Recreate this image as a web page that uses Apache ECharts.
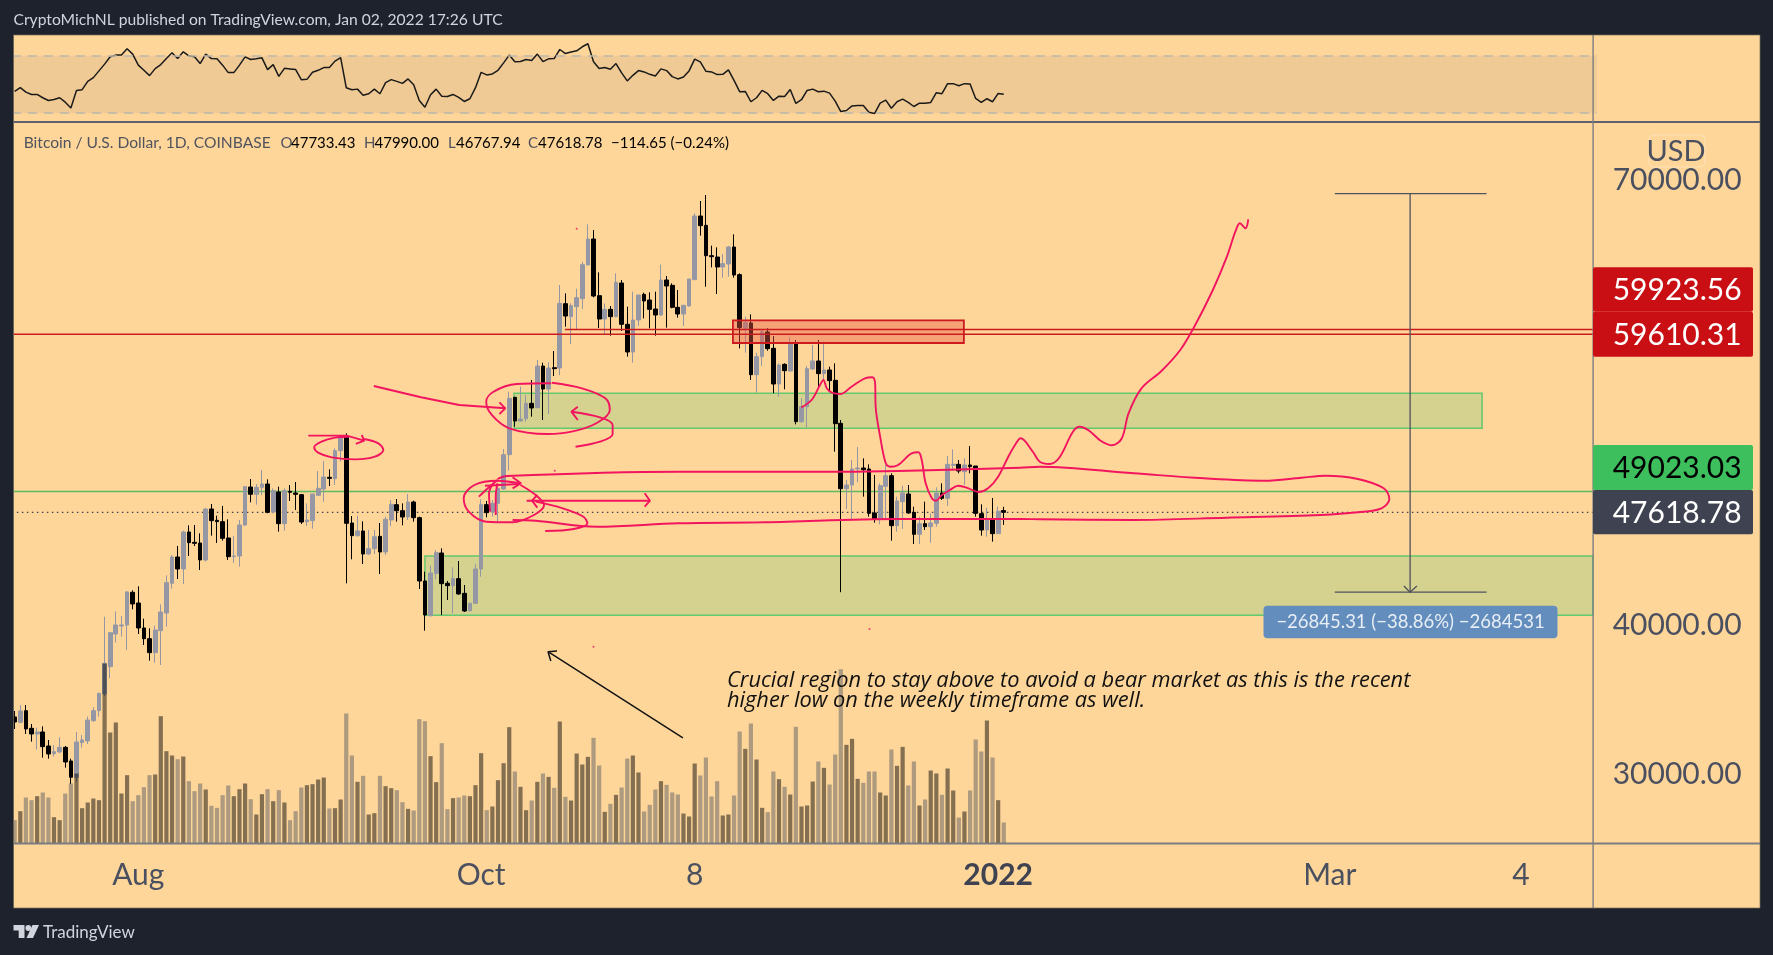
<!DOCTYPE html>
<html>
<head>
<meta charset="utf-8">
<style>html,body{margin:0;padding:0;background:#1e222d;}#c{width:1773px;height:955px;}</style>
<script src="https://cdn.jsdelivr.net/npm/echarts@6/dist/echarts.min.js"></script>
</head>
<body>
<div id="c"></div>
<script>
const opens = [33833,33473,34259,33069,32688,32822,31879,31363,31476,31790,
30869,29769,32104,32216,33585,34259,35382,37222,39423,39961,
40029,42229,41510,39827,39108,38165,39647,40837,42835,44608,
43800,46292,45596,45551,44407,47841,47078,46988,45888,44631,
44676,46764,49323,48829,49301,49525,47639,48986,46853,49031,
48918,48806,46988,47055,48761,49188,49974,49884,51770,52712,
46898,46045,46359,44810,45169,46000,44945,47100,48133,47729,
47302,48312,47257,42992,40657,43508,44878,42835,42677,43149,
42161,40994,41488,43800,48133,47639,48222,49188,51500,55361,
53768,53924,54957,54665,57471,55922,57359,57336,61670,60794,
61468,62006,64274,66025,62208,60637,61288,60794,63061,60278,
58414,60570,62298,61916,61310,60906,63263,62904,61423,60974,
61512,63286,67574,66945,64902,64812,64139,64341,65486,63623,
60008,60368,56888,58100,59762,58662,56260,57584,57135,58999,
53723,54733,57270,57809,56956,57203,56507,53610,49210,49457,
50535,50602,50535,47571,47167,49368,50086,46718,48335,48851,
47616,46135,46853,46651,46876,48919,48559,50782,50849,50355,
50804,50737,47527,46426,47145,46180,47733.43];
const highs = [34237,34641,34641,33361,33114,33204,32283,31947,32463,31879,
31026,32822,32620,33855,34506,35471,40590,39512,40949,40635,
42319,42364,42633,40455,39804,39984,41421,43374,44743,45349,
46382,46741,46764,46202,47909,48178,47392,48043,47145,46023,
47100,49390,49862,49525,50468,49839,49233,49345,49233,49457,
49659,48851,48222,48851,50400,51074,50512,51927,52825,52937,
47369,47392,47010,46426,46426,46898,47325,48447,48514,48222,
48851,48402,47325,43620,44024,45080,45192,42992,43912,44339,
42722,41533,44137,48492,48380,48447,49345,51882,55743,55400,
56080,55518,56529,57875,57696,57718,58482,62927,62366,61692,
62680,64498,67013,66631,63780,61692,61512,63712,63264,61468,
62478,62253,62410,62433,62478,64296,63533,63039,62590,61602,
63331,67754,68584,68988,65576,65464,65015,65553,66339,63712,
60794,60951,58369,59897,60009,59492,57652,57652,59403,59223,
55295,57472,58886,59223,59111,57427,57652,53835,49794,51141,
52017,51253,50849,50131,49570,50804,50243,48672,49412,49457,
47998,47325,48335,47549,49300,49570,51410,51859,51141,51253,
52084,50737,48155,47931,48582,48000,47990];
const lows = [33024,33406,32688,32171,31655,31094,31026,31161,31385,30420,
29320,29477,31767,32014,33496,33855,35247,36437,38839,39243,
38345,41084,39423,38682,37627,37492,37335,39916,42476,43127,
42790,44676,45349,43733,44294,46045,45551,45709,44407,44227,
43957,46696,48290,48133,48784,47549,47549,46314,46382,48380,
47773,46831,46696,46516,48716,48335,49390,49457,51029,42835,
44451,45978,44137,44765,44810,43463,44743,46696,46988,46741,
47100,46988,42453,39647,40590,43104,40702,41712,40814,42071,
40904,40926,41443,43284,47280,47325,46920,49121,50423,53386,
53722,53722,54059,54620,53835,54239,56798,56865,60120,58953,
59896,61310,64274,62096,60031,59627,59514,60749,59829,58100,
57696,60165,60682,60008,59514,60839,60053,61355,60727,60165,
61468,63264,66249,62815,64117,62321,63421,63488,63421,58661,
58369,56528,55675,57472,58505,55631,55407,55900,57090,53543,
53655,53341,57203,55968,56529,55743,51702,42237,47841,47167,
49637,48672,47325,46920,46808,47100,45708,46314,46494,47527,
45484,45484,46426,45574,46651,48447,48043,50423,50243,49457,
50243,47325,46045,45978,45641,46180,46767.94];
const closes = [33496,34237,33024,32688,32822,31834,31341,31498,31790,30802,
29769,32149,32283,33630,34259,35426,37447,39512,40029,40029,
42251,41443,39827,39108,38165,39692,40904,42880,44608,43800,
46292,45574,45529,44407,47841,47056,46988,45866,44631,44676,
46764,49346,48829,49301,49525,47616,49076,46853,49076,48963,
48829,46965,47100,48851,49233,49996,49906,51770,52712,46875,
46045,46359,44810,45169,45970,44945,47145,48155,47729,47302,
48312,47257,42992,40702,43531,44900,42812,42677,43149,42116,
40971,41488,43800,48155,47594,48222,49233,51500,55294,53768,
53902,54957,54643,57471,55922,57336,57292,61692,60839,61535,
62074,64296,66025,62186,60637,61288,60794,63106,60278,58414,
60570,62253,61849,61288,60906,63263,62859,61423,60974,61557,
63331,67574,66923,64902,64835,64139,64364,65486,63600,60053,
60390,56888,58100,59784,58640,56260,57539,57158,58999,53723,
54733,57292,57809,56956,57203,56484,53588,49210,49457,50535,
50602,50490,47549,47167,49413,50086,46718,48380,48919,47571,
46135,46853,46651,46898,48919,48559,50849,50849,50400,50804,
50692,47549,46426,47145,46180,47684,47618.78];
const volumes = [70,97,138,130,142,153,138,79,70,150,
180,210,106,123,135,130,540,333,363,150,
205,127,145,169,205,207,382,277,264,253,
261,187,157,180,162,113,107,145,174,142,
163,180,133,87,148,163,127,160,123,70,
97,168,175,178,192,198,105,106,132,390,
264,185,203,87,91,203,172,166,160,124,
104,99,373,367,262,184,301,103,136,138,
144,142,175,271,100,111,190,241,349,216,
170,100,129,185,210,200,167,366,140,129,
270,237,260,317,234,95,119,146,168,255,
264,213,96,116,162,187,176,153,147,90,
81,240,204,258,141,187,84,87,144,336,
284,360,252,107,94,216,193,170,147,350,
111,114,186,246,227,177,267,523,296,314,
194,182,216,216,153,144,282,233,290,174,
246,114,132,219,210,146,225,159,78,96,
159,312,276,369,258,130,63];
const rsi = [45.2,47.8,44.7,43.1,43.1,40.8,38.9,39.6,40.8,37.7,
33.7,45.9,46.4,52.2,54.8,59.5,64.2,69.3,70.5,70.5,
74.9,71.2,63.5,59.9,56.2,61.1,63.9,68.1,72.1,68.1,
72.8,70,69.3,64.6,71.2,68.1,67.9,63.5,58.3,58.3,
63.5,69.3,67.4,67.9,68.6,60.4,63.9,55.7,61.3,60.9,
60.4,53.4,53.6,58.5,59.9,61.8,61.8,66.3,68.8,47.8,
46.4,46.8,42.6,43.6,46.8,43.6,51.3,53.4,52.2,50.8,
53.9,49.9,38.9,34.2,42.9,46.8,41.9,41.7,43.1,41,
38.2,40.1,47.8,58.5,56.7,57.4,59.9,65.1,70.5,65.8,
66,67.4,66.7,71.2,66,67.9,68.1,74.4,71.6,72.6,
73.5,76.3,78.4,65.8,61.1,61.8,60.6,64.6,58.1,52.5,
56.4,59.7,58.8,57.1,56,60.9,59.7,55.5,53.9,55.3,
59.5,67.7,65.8,59.2,58.8,56.9,57.1,60.2,52.9,45,
45.2,38,40.8,45.9,43.6,38.9,41.9,41.7,46.6,36.8,
39.4,45.9,46.8,45,45.4,44,38.4,31.2,31.9,35.1,
35.4,35.4,30.7,29.8,37,39.1,33.5,38,39.8,37.5,
34.7,37,37,37.5,44.3,43.6,50.6,50.6,49.2,50.6,
50.4,40.3,37.5,40.1,38,43.8,43.3];
const tickLabels = {'2021-08-01':'Aug','2021-10-01':'Oct','2021-11-08':'8','2022-01-01':'2022','2022-03-01':'Mar','2022-04-04':'4'};
const priceTicks = [30000,40000,70000];
const lastPrice = 47618.78, greenLevel = 49023.03, redLevelA = 59610.31, redLevelB = 59923.56;
const measureHigh = 69082, measureLow = 42237;

// Hand drawings, as [day index, price]
const inkSmooth = [
  [[62.2,52555],[64.7,52265],[65.6,51815],[64.1,51365],[60.6,51185],[56.4,51320],[54.0,51635],[53.3,51995],[54.6,52375],[57.0,52645],[59.4,52710]],
  [[95.45,56306],[89.3,56259],[85.2,55741],[83.9,55067],[84.9,54172],[88.0,53276],[94.8,52892],[99.1,53047],[103.5,53613],[105.9,54508],[105.1,55296],[100.95,55970],[95.6,56347]],
  [[99.05,54394],[104.15,54016],[106.4,53498],[106.4,52892],[104.15,52373],[99.8,52037]],
  [[90.0,49572],[85.9,49747],[81.8,49457],[79.9,48561],[80.8,47658],[83.9,46986],[88.6,46945],[92.4,47437],[94.2,48110],[92.7,48784],[90.0,49457]],
  [[94.4,46359],[99.5,46494],[101.9,46878],[101.2,47322],[97.5,47888],[92.7,48333]],
  [[85.9,49861],[87.6,50064],[118.1,50352],[146.7,50352],[157.2,50400],[178.9,50622],[182.4,50690],[199.1,50245],[211.6,49909],[222.4,49747],[229.0,49949],[233.2,50084],[239.0,49861],[243.6,49234],[244.6,48514],[243.2,47888],[239.0,47618],[232.4,47437],[215.7,47255],[199.1,47100],[182.4,47147],[178.9,47167],[157.2,47167],[133.5,46945],[118.1,46878],[103.6,46649],[92.7,47054],[88.6,47100]],
  [[140.0,54690],[141.8,55182],[143.3,56192],[143.9,56529],[144.5,55970],[145.4,55674],[146.9,55586],[148.9,56077],[151.3,56644],[152.6,56711],[153.1,56307],[153.2,54731],[154.0,52710],[155.0,50918],[155.8,50690],[157.2,50804],[159.6,51592],[160.8,51660],[161.4,51141],[162.1,49572],[163.2,48561],[163.9,48400],[165.0,48784],[166.4,49120],[167.9,49410],[169.7,49234],[171.5,48986],[173.2,49234],[175.0,50016],[176.8,51363],[178.0,52152],[179.0,52602],[181.2,51680],[182.4,51026],[184.1,50871],[185.8,51255],[188.3,53047],[189.5,53384],[191.2,53115],[193.3,52420],[195.3,52131],[197.0,52602],[198.2,54286],[200.5,55970],[204.1,57155],[207.4,58550],[209.9,60119],[213.2,62590],[215.7,64834],[217.2,66517],[218.0,67083],[219.0,66746],[219.5,67352]],
  [[82.6,48670],[84.2,49234],[85.9,49794]],
  [[84.6,47658],[84.4,48898],[85.2,49572]],
  [[85.6,47437],[85.6,48670],[85.9,49572]]
];
const inkStraight = [
  [[52.25,52780],[59.1,52780],[62.2,52440],[60.7,52220],[62.2,52440],[61.75,52825]],
  [[63.9,56125],[72.3,55364],[79.1,54846],[87.3,54622]],
  [[86.25,55027],[87.3,54622],[86.25,54240]],
  [[100.2,54731],[99.05,54394],[100.2,53835]],
  [[83.7,49410],[89.7,49525]],
  [[88.6,49976],[90.1,49572],[88.6,49234]],
  [[91.1,48400],[113.05,48400]],
  [[112.1,48898],[113.05,48400],[112.1,47996]],
  [[93.0,48784],[92.05,48400],[93.0,47929]]
];
const inkDots = [[100.0,66719],[103.0,38567],[152.1,39759],[96.1,50420]];
const blackArrow = [[118.9,32418],[94.9,38230],[96.5,38278],[94.9,38230],[95.4,37604]];
const measureStem = [[248.3,69082],[248.3,42237]];
const measureTop = [[234.9,69082],[261.9,69082]];
const measureBottom = [[234.9,42237],[261.9,42237]];
const measureHead = [[247.2,42656],[248.3,42237],[249.5,42656]];
// zones: [day from, day to, price low, price high]
const redZones = [[127.8,168.9,59021,60550]];
const greenZones = [[88.85,261.1,53276,55633],[73.0,280.8,40682,44675]];

const slotCount = 282, dayEdge = 280.8;
const dates = [];
for (let i = 0; i < slotCount; i++) {
  dates.push(new Date(Date.UTC(2021, 6, 10 + i)).toISOString().slice(0, 10));
}

const INK = '#f2145f', FONT = 'Lato, "Open Sans", sans-serif', WIDE = '"Open Sans", Lato, sans-serif';
const gridBox = {left: 11.86, right: 176.3};

const candleData = opens.map((o, i) => [o, closes[i], lows[i], highs[i]]);
const volumeData = volumes.map((v, i) => ({
  value: v,
  itemStyle: {color: closes[i] >= opens[i] ? 'rgba(0,0,0,0.48)' : 'rgba(94,94,100,0.5)'}
}));

function rectRender(style) {
  return function (params, api) {
    const a = api.coord([api.value(0), api.value(3)]);
    const b = api.coord([api.value(1), api.value(2)]);
    return {type: 'rect', shape: {x: a[0], y: a[1], width: b[0] - a[0], height: b[1] - a[1]}, style: style};
  };
}
function inkSeries(data, smooth, color, width, z, lineType) {
  return {type: 'line', xAxisIndex: 1, yAxisIndex: 0, data: data, smooth: smooth ? 0.35 : false,
    showSymbol: false, symbol: 'none', animation: false, silent: true, z: z,
    lineStyle: {color: color, width: width, type: lineType || 'solid'}};
}

const series = [
  {type: 'custom', xAxisIndex: 1, yAxisIndex: 0, data: greenZones, z: 1, silent: true,
   encode: {x: [0, 1], y: [2, 3]},
   renderItem: rectRender({fill: 'rgba(172,204,132,0.5)', stroke: '#63c96e', lineWidth: 1.5})},
  inkSeries([[-0.5, greenLevel], [dayEdge, greenLevel]], false, '#5cba62', 1.6, 1),
  inkSeries([[-0.5, lastPrice], [dayEdge, lastPrice]], false, '#3f4250', 1.2, 1, [1.5, 3.5]),
  {type: 'candlestick', xAxisIndex: 0, yAxisIndex: 0, data: candleData, barWidth: 4.2, z: 2, silent: true,
   itemStyle: {color: '#9598a4', color0: '#000000', borderColor: '#9598a4', borderColor0: '#000000', borderWidth: 1}},
  {type: 'custom', xAxisIndex: 1, yAxisIndex: 0, data: redZones, z: 3, silent: true,
   encode: {x: [0, 1], y: [2, 3]},
   renderItem: rectRender({fill: 'rgba(232,90,70,0.42)', stroke: '#cc1a1f', lineWidth: 1.8})},
  inkSeries([[-0.5, redLevelA], [dayEdge, redLevelA]], false, '#cc1a1f', 1.5, 3),
  inkSeries([[97.9, redLevelB], [dayEdge, redLevelB]], false, '#cc1a1f', 1.5, 3),
  {type: 'bar', xAxisIndex: 0, yAxisIndex: 1, data: volumeData, barWidth: 4.2, z: 3, silent: true},
  inkSeries(measureStem, false, '#50535e', 1.3, 4),
  inkSeries(measureTop, false, '#50535e', 1.3, 4),
  inkSeries(measureBottom, false, '#50535e', 1.3, 4),
  inkSeries(measureHead, false, '#50535e', 1.3, 4),
  inkSeries(blackArrow, false, '#141414', 1.5, 4),
  {type: 'scatter', xAxisIndex: 1, yAxisIndex: 0, data: inkDots, symbolSize: 2, z: 4, silent: true,
   itemStyle: {color: INK}},
  {type: 'line', xAxisIndex: 2, yAxisIndex: 2, data: rsi, showSymbol: false, symbol: 'none', silent: true, z: 3,
   lineStyle: {color: '#1a1a1a', width: 1.5},
   markArea: {silent: true, itemStyle: {color: 'rgba(120,100,100,0.1)'}, data: [[{yAxis: 30}, {yAxis: 70}]]},
   markLine: {silent: true, symbol: 'none', label: {show: false},
     lineStyle: {color: '#bcb8ae', type: [9, 7], width: 1.6}, data: [{yAxis: 70}, {yAxis: 30}]}}
];
inkSmooth.forEach(s => series.push(inkSeries(s, true, INK, 1.9, 5)));
inkStraight.forEach(s => series.push(inkSeries(s, false, INK, 1.9, 5)));

function t(x, y, text, size, fill, extra) {
  return {type: 'text', z: 100, x: x, y: y, silent: true,
    style: Object.assign({text: text, font: size + 'px ' + FONT, fill: fill, textVerticalAlign: 'middle', verticalAlign: 'middle'}, extra || {})};
}
function box(x, y, w, h, fill, r) {
  return {type: 'rect', z: 90, silent: true, shape: {x: x, y: y, width: w, height: h, r: r || 0}, style: {fill: fill}};
}
const DARK = '#1e222d', AXIS = '#7b7d82';
const graphic = [
  {type: 'rect', z: 0, silent: true, shape: {x: 13.5, y: 35, width: 1746.5, height: 873}, style: {fill: '#fed69a'}},
  box(0, 0, 13.5, 955, DARK), box(1760, 0, 13, 955, DARK),
  box(13.5, 908, 1746.5, 47, DARK), box(13.5, 0, 1746.5, 35, DARK),
  {type: 'rect', z: 91, silent: true, shape: {x: 13.5, y: 35, width: 1746.5, height: 873}, style: {fill: 'none', stroke: 'rgba(120,110,90,0.7)', lineWidth: 1}},
  box(13.5, 121, 1579.5, 2, '#5d6170'), box(1593, 121, 167, 2, '#5d6170'),
  box(13.5, 842.5, 1746.5, 2, AXIS), box(1592.4, 35, 1.4, 873, AXIS),
  t(13.5, 20, 'CryptoMichNL published on TradingView.com, Jan 02, 2022 17:26 UTC', 15.65, '#d1d4dc'),
  t(23.7, 143, 'Bitcoin / U.S. Dollar, 1D, COINBASE', 15.6, '#50535e'),
  t(280.5, 143, 'O', 15, '#50535e'), t(291, 143, '47733.43', 15, '#000'),
  t(364, 143, 'H', 15, '#50535e'), t(374.5, 143, '47990.00', 15, '#000'),
  t(448, 143, 'L', 15, '#50535e'), t(456, 143, '46767.94', 15, '#000'),
  t(528, 143, 'C', 15, '#50535e'), t(538, 143, '47618.78', 15, '#000'),
  t(611, 143, '\u2212114.65 (\u22120.24%)', 15, '#000'),
  t(727, 681, 'Crucial region to stay above to avoid a bear market as this is the recent', 20, '#111', {font: 'italic 21.8px ' + WIDE}),
  t(727, 701, 'higher low on the weekly timeframe as well.', 20, '#111', {font: 'italic 21.8px ' + WIDE}),
  box(1263.5, 605.7, 294, 32.6, '#628dbd', 4),
  t(1410.5, 622, '\u221226845.31 (\u221238.86%) \u22122684531', 18.5, '#e8eef5', {textAlign: 'center', align: 'center'}),
  box(1593, 267.3, 160, 44.4, '#c90f14', 2), box(1593, 311.7, 160, 45, '#c90f14', 2),
  box(1593, 445, 160, 45, '#3dbf5e', 2), box(1593, 490, 160, 44.3, '#3f4250', 2),
  t(1612.7, 290.5, '59923.56', 30, '#fff'), t(1612.7, 335.2, '59610.31', 30, '#fff'),
  t(1612.7, 468.5, '49023.03', 30, '#000'), t(1612.7, 513.2, '47618.78', 30, '#fff'),
  {type: 'rect', z: 90, silent: true, shape: {x: 1649, y: 135, width: 56, height: 32, r: 5},
   style: {fill: 'rgba(254,214,154,0.6)', stroke: 'rgba(255,255,255,0.3)', lineWidth: 1}},
  t(1676, 152, 'USD', 29, '#4a5060', {textAlign: 'center', align: 'center'}),
  {type: 'polygon', z: 100, silent: true, shape: {points: [[13.5,925],[24.5,925],[24.5,938],[18.7,938],[18.7,930.5],[13.5,930.5]]}, style: {fill: '#d1d4dc'}},
  {type: 'circle', z: 100, silent: true, shape: {cx: 28.3, cy: 928, r: 2.9}, style: {fill: '#d1d4dc'}},
  {type: 'polygon', z: 100, silent: true, shape: {points: [[32.5,925],[39,925],[33,938],[26.5,938]]}, style: {fill: '#d1d4dc'}},
  t(43, 932.5, 'TradingView', 17, '#d1d4dc')
];

const chart = echarts.init(document.getElementById('c'), null, {width: 1773, height: 955});
chart.setOption({
  animation: false,
  backgroundColor: '#1e222d',
  textStyle: {fontFamily: FONT},
  grid: [
    {left: gridBox.left, right: gridBox.right, top: 122, height: 721.5},
    {left: gridBox.left, right: gridBox.right, top: 35, height: 87}
  ],
  xAxis: [
    {type: 'category', gridIndex: 0, data: dates, boundaryGap: true,
     axisLine: {show: false}, axisTick: {show: false}, splitLine: {show: false},
     axisLabel: {
       show: true, margin: 17, fontSize: 30, color: '#4a5060', fontFamily: FONT, hideOverlap: false,
       interval: (i, v) => tickLabels[v] !== undefined,
       formatter: v => (tickLabels[v] === '2022' ? '{b|2022}' : (tickLabels[v] || '')),
       rich: {b: {fontSize: 30, fontWeight: 'bold', color: '#3f4250', fontFamily: FONT}}
     }},
    {type: 'value', gridIndex: 0, min: -0.5, max: slotCount - 0.5, show: false},
    {type: 'category', gridIndex: 1, data: dates, boundaryGap: true, show: false}
  ],
  yAxis: [
    {type: 'value', gridIndex: 0, position: 'right', min: 25312, max: 73905, scale: true,
     axisLine: {show: false}, axisTick: {show: false}, splitLine: {show: false},
     axisLabel: {show: true, margin: 16, fontSize: 30, color: '#4a5060', fontFamily: FONT, padding: [3, 0, 0, 0],
       showMinLabel: true, showMaxLabel: true, customValues: priceTicks,
       formatter: v => v.toFixed(2)}},
    {type: 'value', gridIndex: 0, min: 0, max: 2164.5, show: false},
    {type: 'value', gridIndex: 1, min: 23.9, max: 84.5, show: false}
  ],
  graphic: {elements: graphic},
  series: series
});
</script>
</body>
</html>
